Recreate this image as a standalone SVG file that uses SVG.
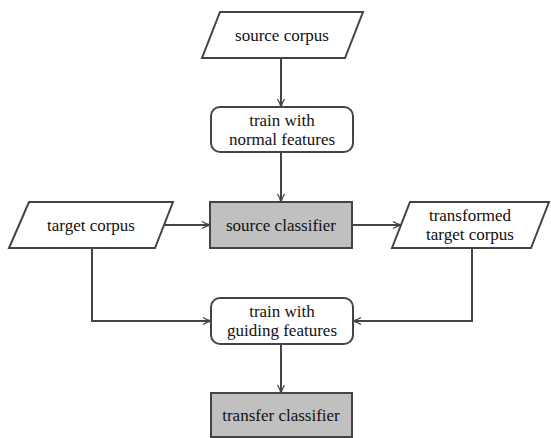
<svg xmlns="http://www.w3.org/2000/svg" width="551" height="438" viewBox="0 0 551 438">
<defs>
<marker id="arr" viewBox="0 0 10 10" refX="9" refY="5" markerWidth="10" markerHeight="10" markerUnits="userSpaceOnUse" orient="auto">
<path d="M1,1.5 Q5,4 9,5 Q5,6 1,8.5" fill="none" stroke="#444" stroke-width="1.3"/>
</marker>
<style>
.shape{stroke:#444;stroke-width:2;fill:#fff}
.gray{fill:#c0c0c0}
.conn{stroke:#444;stroke-width:2;fill:none;marker-end:url(#arr)}
text{font-family:"Liberation Serif","Times New Roman","DejaVu Serif",serif;font-size:17px;fill:#111;text-anchor:middle}
</style>
</defs>
<g id="source-corpus">
<polygon class="shape" points="220,12 363,12 345,58 202,58"/>
<text x="282" y="41">source corpus</text>
</g>
<g id="train-normal">
<rect class="shape" x="211" y="107" width="142" height="45" rx="9"/>
<text x="282" y="126">train with</text>
<text x="282" y="145">normal features</text>
</g>
<g id="target-corpus">
<polygon class="shape" points="29,202 173,202 155,248 9,248"/>
<text x="91" y="231">target corpus</text>
</g>
<g id="source-classifier">
<rect class="shape gray" x="210" y="202" width="142" height="46"/>
<text x="281" y="231">source classifier</text>
</g>
<g id="transformed-target">
<polygon class="shape" points="410,202 549,202 531,248 392,248"/>
<text x="470" y="221">transformed</text>
<text x="470" y="240">target corpus</text>
</g>
<g id="train-guiding">
<rect class="shape" x="211" y="298" width="142" height="46" rx="9"/>
<text x="282" y="317">train with</text>
<text x="282" y="336">guiding features</text>
</g>
<g id="transfer-classifier">
<rect class="shape gray" x="211" y="393" width="141" height="44"/>
<text x="281" y="421">transfer classifier</text>
</g>
<g id="connectors">
<path class="conn" d="M281,58 V107"/>
<path class="conn" d="M281,152 V202"/>
<path class="conn" d="M164,225 H210"/>
<path class="conn" d="M352,225 H401"/>
<path class="conn" d="M92,248 V321 H211"/>
<path class="conn" d="M472,248 V321 H353"/>
<path class="conn" d="M281,344 V393"/>
</g>
</svg>
